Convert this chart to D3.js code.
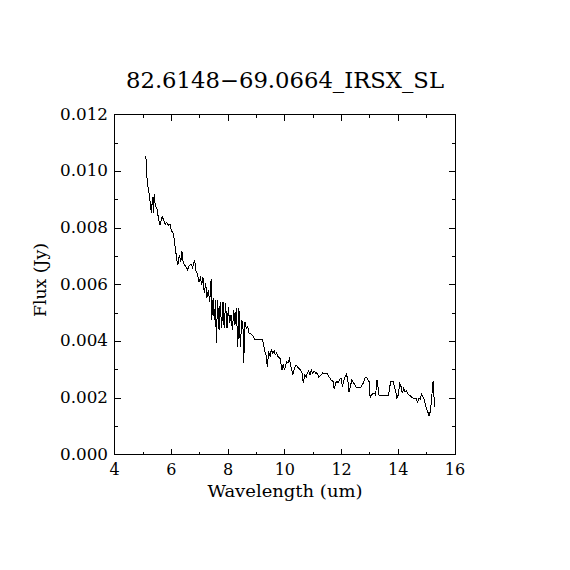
<!DOCTYPE html>
<html>
<head>
<meta charset="utf-8">
<script src="https://cdn.jsdelivr.net/npm/d3@7"></script>
<style>
  html, body { margin: 0; padding: 0; background: #fff; }
  text { font-family: "DejaVu Serif", "Liberation Serif", serif; fill: #000; }
</style>
</head>
<body>
<div id="chart"></div>
<script>
// spectrum
const wavelength = [
  5.10, 5.13, 5.17, 5.22, 5.29, 5.34, 5.36, 5.39, 5.43, 5.50,
  5.55, 5.60, 5.67, 5.71, 5.78, 5.83, 5.90, 5.95, 6.00, 6.07,
  6.14, 6.19, 6.23, 6.28, 6.33, 6.37, 6.42, 6.49, 6.56, 6.63,
  6.70, 6.75, 6.82, 6.87, 6.91, 6.97, 7.02, 7.07, 7.11, 7.16,
  7.21, 7.25, 7.30, 7.35, 7.40, 7.42, 7.47, 7.51, 7.56, 7.58,
  7.63, 7.68, 7.72, 7.77, 7.82, 7.86, 7.91, 7.96, 8.01, 8.05,
  8.10, 8.15, 8.20, 8.24, 8.29, 8.34, 8.38, 8.43, 8.48, 8.52,
  8.55, 8.59, 8.64, 8.69, 8.74, 8.81, 8.87, 8.94, 9.03, 9.12,
  9.22, 9.29, 9.33, 9.38, 9.43, 9.48, 9.52, 9.57, 9.62, 9.66,
  9.71, 9.76, 9.83, 9.90, 9.94, 9.99, 10.06, 10.11, 10.16, 10.23,
  10.28, 10.32, 10.39, 10.46, 10.53, 10.60, 10.65, 10.70, 10.75, 10.79,
  10.84, 10.89, 10.93, 10.98, 11.03, 11.10, 11.13, 11.20, 11.27, 11.34,
  11.42, 11.49, 11.56, 11.63, 11.70, 11.74, 11.79, 11.84, 11.88, 11.93,
  11.98, 12.03, 12.07, 12.12, 12.17, 12.22, 12.26, 12.31, 12.36, 12.40,
  12.45, 12.52, 12.59, 12.68, 12.76, 12.83, 12.90, 12.97, 13.01, 13.06,
  13.11, 13.15, 13.20, 13.25, 13.32, 13.39, 13.49, 13.58, 13.65, 13.70,
  13.74, 13.81, 13.86, 13.91, 13.95, 14.00, 14.05, 14.10, 14.14, 14.19,
  14.24, 14.28, 14.35, 14.42, 14.49, 14.56, 14.63, 14.68, 14.73, 14.78,
  14.82, 14.87, 14.92, 14.97, 15.04, 15.08, 15.13, 15.18, 15.20, 15.23,
  15.28
];
const flux = [
  0.01054, 0.00987, 0.00946, 0.00917, 0.00853, 0.00911, 0.00853, 0.00919, 0.00881, 0.00864,
  0.00828, 0.00810, 0.00840, 0.00832, 0.00813, 0.00820, 0.00810, 0.00813, 0.00790, 0.00781,
  0.00728, 0.00687, 0.00670, 0.00705, 0.00681, 0.00719, 0.00676, 0.00667, 0.00652, 0.00667,
  0.00672, 0.00660, 0.00687, 0.00646, 0.00640, 0.00610, 0.00623, 0.00599, 0.00628, 0.00570,
  0.00605, 0.00552, 0.00581, 0.00540, 0.00619, 0.00475, 0.00552, 0.00475, 0.00546, 0.00393,
  0.00546, 0.00440, 0.00540, 0.00446, 0.00540, 0.00446, 0.00534, 0.00446, 0.00522, 0.00464,
  0.00493, 0.00440, 0.00511, 0.00458, 0.00517, 0.00381, 0.00517, 0.00381, 0.00475, 0.00464,
  0.00323, 0.00469, 0.00446, 0.00452, 0.00428, 0.00426, 0.00419, 0.00407, 0.00405, 0.00407,
  0.00405, 0.00364, 0.00358, 0.00311, 0.00364, 0.00346, 0.00372, 0.00358, 0.00367, 0.00352,
  0.00360, 0.00346, 0.00340, 0.00299, 0.00320, 0.00299, 0.00328, 0.00323, 0.00337, 0.00305,
  0.00281, 0.00299, 0.00317, 0.00308, 0.00301, 0.00293, 0.00254, 0.00281, 0.00273, 0.00287,
  0.00296, 0.00281, 0.00299, 0.00287, 0.00296, 0.00287, 0.00289, 0.00273, 0.00281, 0.00289,
  0.00285, 0.00287, 0.00275, 0.00264, 0.00258, 0.00231, 0.00252, 0.00261, 0.00254, 0.00266,
  0.00270, 0.00240, 0.00258, 0.00275, 0.00285, 0.00264, 0.00222, 0.00240, 0.00264, 0.00258,
  0.00250, 0.00238, 0.00238, 0.00238, 0.00252, 0.00273, 0.00270, 0.00258, 0.00199, 0.00211,
  0.00217, 0.00217, 0.00211, 0.00264, 0.00211, 0.00208, 0.00208, 0.00208, 0.00208, 0.00240,
  0.00260, 0.00260, 0.00244, 0.00222, 0.00199, 0.00211, 0.00252, 0.00240, 0.00217, 0.00234,
  0.00222, 0.00225, 0.00213, 0.00208, 0.00201, 0.00199, 0.00197, 0.00185, 0.00201, 0.00197,
  0.00213, 0.00205, 0.00193, 0.00169, 0.00152, 0.00137, 0.00152, 0.00199, 0.00234, 0.00261,
  0.00167
];
const xMajorTicks = [4, 6, 8, 10, 12, 14, 16];
const xMinorTicks = [5, 7, 9, 11, 13, 15];
const yMajorTicks = [0, 0.002, 0.004, 0.006, 0.008, 0.010, 0.012];
const yMinorTicks = [0.001, 0.003, 0.005, 0.007, 0.009, 0.011];

const title = "82.6148\u221269.0664_IRSX_SL";
const xLabel = "Wavelength (um)";
const yLabel = "Flux (Jy)";

const width = 570, height = 570;
const plotLeft = 114.7, plotRight = 455, plotTop = 114.7, plotBottom = 454.7;

const svg = d3.select("#chart").append("svg")
  .attr("width", width)
  .attr("height", height);

const x = d3.scaleLinear().domain([4, 16]).range([plotLeft, plotRight]);
const y = d3.scaleLinear().domain([0, 0.012]).range([plotBottom, plotTop]);

const points = wavelength.map((w, i) => [w, flux[i]]);

// spectrum (aliased look like the original plot device)
svg.append("path")
  .datum(points)
  .attr("fill", "none")
  .attr("stroke", "#000")
  .attr("stroke-width", 1)
  .attr("shape-rendering", "crispEdges")
  .attr("d", d3.line().x(d => x(d[0])).y(d => y(d[1])));

// frame with inward ticks on all four sides
const axisG = svg.append("g")
  .attr("stroke", "#000")
  .attr("stroke-width", 1)
  .attr("shape-rendering", "crispEdges");
axisG.append("rect")
  .attr("x", plotLeft).attr("y", plotTop)
  .attr("width", plotRight - plotLeft).attr("height", plotBottom - plotTop)
  .attr("fill", "none");

const major = 6, minor = 3;
const xt = xMajorTicks.map(v => [v, major]).concat(xMinorTicks.map(v => [v, minor]));
const yt = yMajorTicks.map(v => [v, major]).concat(yMinorTicks.map(v => [v, minor]));

axisG.selectAll("line.xb").data(xt).join("line").attr("class", "xb")
  .attr("x1", d => x(d[0])).attr("x2", d => x(d[0]))
  .attr("y1", plotBottom).attr("y2", d => plotBottom - d[1]);
axisG.selectAll("line.xt").data(xt).join("line").attr("class", "xt")
  .attr("x1", d => x(d[0])).attr("x2", d => x(d[0]))
  .attr("y1", plotTop).attr("y2", d => plotTop + d[1]);
axisG.selectAll("line.yl").data(yt).join("line").attr("class", "yl")
  .attr("y1", d => y(d[0])).attr("y2", d => y(d[0]))
  .attr("x1", plotLeft).attr("x2", d => plotLeft + d[1]);
axisG.selectAll("line.yr").data(yt).join("line").attr("class", "yr")
  .attr("y1", d => y(d[0])).attr("y2", d => y(d[0]))
  .attr("x1", plotRight).attr("x2", d => plotRight - d[1]);

// tick labels
svg.append("g").selectAll("text").data(xMajorTicks).join("text")
  .attr("x", d => x(d)).attr("y", 475)
  .attr("text-anchor", "middle")
  .attr("font-size", 16)
  .text(d => d);

svg.append("g").selectAll("text").data(yMajorTicks).join("text")
  .attr("x", 108).attr("y", d => y(d) + 5)
  .attr("text-anchor", "end")
  .attr("font-size", 16)
  .attr("textLength", 48)
  .attr("lengthAdjust", "spacingAndGlyphs")
  .text(d => d3.format(".3f")(d));

// title and axis labels
svg.append("text")
  .attr("x", 285).attr("y", 88)
  .attr("text-anchor", "middle")
  .attr("font-size", 22)
  .attr("textLength", 318)
  .attr("lengthAdjust", "spacingAndGlyphs")
  .text(title);

svg.append("text")
  .attr("x", 285).attr("y", 497)
  .attr("text-anchor", "middle")
  .attr("font-size", 16)
  .attr("textLength", 155)
  .attr("lengthAdjust", "spacingAndGlyphs")
  .text(xLabel);

svg.append("text")
  .attr("transform", "translate(46,280) rotate(-90)")
  .attr("text-anchor", "middle")
  .attr("font-size", 16)
  .attr("textLength", 74)
  .attr("lengthAdjust", "spacingAndGlyphs")
  .text(yLabel);
</script>
</body>
</html>
